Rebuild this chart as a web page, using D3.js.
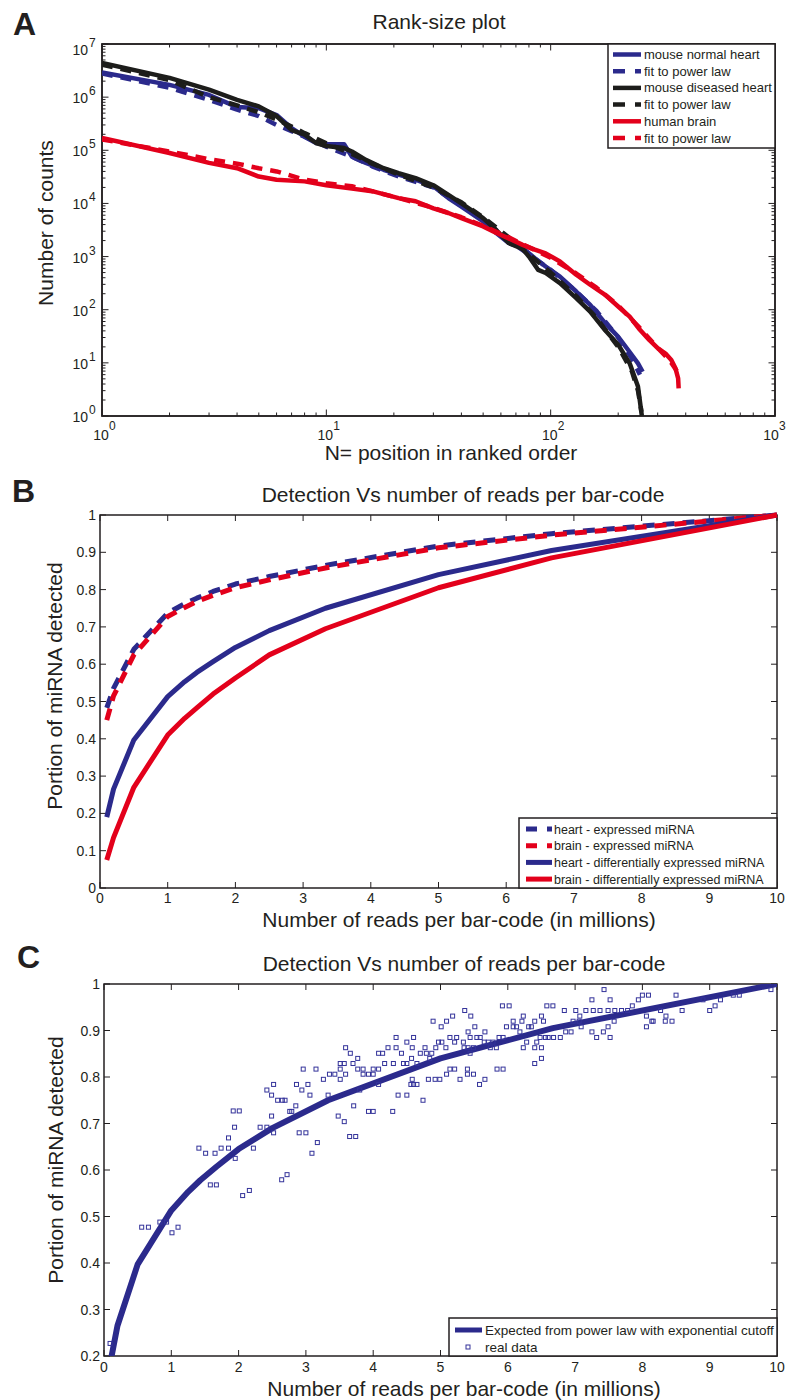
<!DOCTYPE html>
<html lang="en">
<head>
<meta charset="UTF-8" />
<title>miRNA detection vs reads</title>
<script src="https://d3js.org/d3.v7.min.js"></script>
<style>
  body { margin: 0; background: #fff; }
  svg text { font-family: "Liberation Sans", Arial, sans-serif; fill: #231f20; }
  .tick-label { font-size: 14px; }
  .tick-sup { font-size: 12px; }
  .axis-title { font-size: 21px; }
  .panel-letter { font-size: 32px; font-weight: bold; }
  .legend-a text { font-size: 13px; }
  .legend-b text { font-size: 12.5px; }
  .legend-c text { font-size: 13.5px; }
</style>
</head>
<body>
<svg id="fig" width="787" height="1400"></svg>
<script>
// ---------- Panel A: rank-size data, [rank, counts] ----------
var normalHeart = [[1, 2.9e6], [2, 1.7e6], [3, 1.1e6], [4, 6.5e5], [5, 6.2e5], [6, 4.6e5], [7, 2.6e5], [8, 1.8e5], [9, 1.37e5], [10, 1.3e5], [12, 1.3e5], [13, 7.6e4], [15, 5.8e4], [18, 4.3e4], [21, 3.5e4], [25, 2.8e4], [30, 2.1e4], [35, 1.26e4], [40, 8.7e3], [50, 4.6e3], [57, 2.8e3], [65, 1.8e3], [75, 1.45e3], [85, 930], [95, 650], [110, 420], [130, 220], [150, 123], [175, 56], [200, 31], [225, 16], [245, 9.8], [257, 6.8]];
var normalHeartFit = [[1, 2.8e6], [2, 1.5e6], [3, 8.9e5], [4, 5.8e5], [5, 4.4e5], [6, 3.0e5], [7, 2.3e5], [8, 1.8e5], [10, 1.17e5], [13, 7.6e4], [16, 5.0e4], [21, 3.2e4], [30, 2.0e4], [40, 9.0e3], [50, 5.0e3], [65, 2.0e3], [80, 1.1e3], [100, 560], [130, 220], [160, 95], [200, 30], [230, 12], [250, 6]];
var diseasedHeart = [[1, 4.4e6], [2, 2.3e6], [3, 1.38e6], [4, 8.9e5], [5, 6.7e5], [6, 4.4e5], [7, 2.4e5], [8, 1.96e5], [9, 1.37e5], [10, 1.2e5], [12, 1.1e5], [13, 9.5e4], [15, 6.6e4], [18, 4.6e4], [21, 3.7e4], [25, 3.0e4], [30, 2.2e4], [35, 1.45e4], [40, 1.0e4], [50, 5.3e3], [57, 3.2e3], [65, 1.8e3], [75, 1.4e3], [80, 1.0e3], [88, 560], [95, 490], [110, 316], [130, 165], [150, 92], [175, 41], [200, 22], [225, 9.8], [245, 3.6], [255, 1]];
var diseasedHeartFit = [[1, 4.1e6], [2, 2.1e6], [3, 1.0e6], [4, 7.0e5], [5, 5.2e5], [6, 3.8e5], [7, 2.8e5], [8, 2.1e5], [10, 1.35e5], [13, 8.5e4], [16, 5.6e4], [21, 3.5e4], [30, 2.0e4], [40, 1.05e4], [50, 5.5e3], [65, 2.3e3], [80, 1.1e3], [100, 500], [130, 180], [160, 70], [200, 20], [230, 7], [245, 3], [254, 1.2]];
var humanBrain = [[1, 1.7e5], [2, 8.9e4], [3, 5.8e4], [4, 4.6e4], [5, 3.2e4], [6, 2.8e4], [8, 2.6e4], [10, 2.2e4], [13, 1.9e4], [16, 1.7e4], [21, 1.26e4], [25, 1.1e4], [30, 8.1e3], [35, 6.6e3], [40, 5.3e3], [50, 3.7e3], [57, 2.8e3], [65, 2.2e3], [75, 1.66e3], [85, 1.35e3], [95, 1.15e3], [110, 810], [130, 455], [150, 295], [175, 190], [200, 115], [225, 74], [250, 42], [275, 27], [300, 19], [325, 15], [345, 11.3], [360, 7.9], [370, 5.1], [372, 3.3]];
var humanBrainFit = [[1, 1.6e5], [2, 9.5e4], [3, 6.8e4], [4, 5.6e4], [5, 4.6e4], [6, 4.0e4], [8, 2.8e4], [10, 2.4e4], [13, 2.1e4], [16, 1.7e4], [21, 1.26e4], [30, 8.3e3], [40, 5.5e3], [50, 3.8e3], [65, 2.3e3], [80, 1.5e3], [100, 950], [130, 480], [160, 260], [200, 120], [250, 45], [300, 19], [340, 11], [365, 7]];
var legendA = ["mouse normal heart", "fit to power law", "mouse diseased heart", "fit to power law", "human brain", "fit to power law"];

// ---------- Panel B: detection vs reads (millions) ----------
var readsM = [0.1, 0.2, 0.5, 1, 1.25, 1.43, 1.67, 2, 2.5, 3.33, 5, 6.67, 10];
var heartExpressed = [0.483, 0.535, 0.64, 0.737, 0.762, 0.777, 0.795, 0.815, 0.835, 0.865, 0.917, 0.95, 1.0];
var brainExpressed = [0.45, 0.515, 0.625, 0.728, 0.752, 0.768, 0.785, 0.805, 0.826, 0.858, 0.912, 0.946, 1.0];
var heartDiff = [0.19, 0.265, 0.397, 0.513, 0.553, 0.578, 0.607, 0.645, 0.69, 0.75, 0.84, 0.905, 1.0];
var brainDiff = [0.075, 0.135, 0.27, 0.41, 0.455, 0.483, 0.52, 0.563, 0.625, 0.695, 0.805, 0.885, 1.0];
var legendB = ["heart - expressed miRNA", "brain - expressed miRNA", "heart - differentially expressed miRNA", "brain - differentially expressed miRNA"];

// ---------- Panel C: real data, [reads (millions), portion detected] ----------
var realData = [
  [0.09, 0.227], [0.56, 0.477], [0.66, 0.477], [0.83, 0.488], [0.93, 0.488], [1.01, 0.465], [1.10, 0.477],
  [1.58, 0.568], [1.67, 0.568], [2.06, 0.545], [2.16, 0.556], [2.64, 0.579], [2.72, 0.59],
  [1.41, 0.647], [1.51, 0.636], [1.65, 0.636], [1.74, 0.647], [1.85, 0.647], [1.85, 0.669], [1.95, 0.625],
  [1.94, 0.692], [1.92, 0.727], [2.01, 0.727], [2.22, 0.647], [2.32, 0.692], [2.42, 0.692], [2.49, 0.716],
  [2.52, 0.680], [2.42, 0.772], [2.49, 0.761], [2.52, 0.784], [2.58, 0.750], [2.65, 0.750], [2.69, 0.750],
  [2.76, 0.726], [2.79, 0.726], [2.85, 0.738], [2.86, 0.784], [2.94, 0.772], [2.96, 0.817], [3.03, 0.784],
  [3.06, 0.761], [2.90, 0.680], [3.00, 0.680], [3.09, 0.636], [3.17, 0.659], [3.15, 0.817], [3.26, 0.795],
  [3.33, 0.761], [3.35, 0.806], [3.43, 0.806], [3.48, 0.716], [3.57, 0.704], [3.51, 0.817], [3.51, 0.829],
  [3.51, 0.795], [3.57, 0.829], [3.59, 0.863], [3.66, 0.851], [3.59, 0.806], [3.70, 0.829], [3.71, 0.738],
  [3.77, 0.817], [3.85, 0.817], [3.85, 0.806], [3.77, 0.840], [3.65, 0.672], [3.74, 0.672], [3.80, 0.772],
  [3.93, 0.806], [4.00, 0.806], [3.93, 0.726], [4.00, 0.726], [4.00, 0.817], [4.08, 0.817], [4.08, 0.784],
  [4.08, 0.851], [4.14, 0.851], [4.17, 0.829], [4.22, 0.863], [4.29, 0.726], [4.30, 0.829], [4.34, 0.885],
  [4.34, 0.863], [4.37, 0.761],
  [4.42, 0.851], [4.45, 0.829], [4.50, 0.875], [4.50, 0.829], [4.50, 0.761], [4.60, 0.885], [4.58, 0.863],
  [4.57, 0.840], [4.65, 0.829], [4.58, 0.795], [4.56, 0.784], [4.60, 0.784], [4.65, 0.784], [4.74, 0.750],
  [4.70, 0.851], [4.77, 0.863], [4.79, 0.851], [4.87, 0.851], [4.84, 0.840], [4.82, 0.795], [4.92, 0.795],
  [4.99, 0.795], [4.89, 0.920], [5.01, 0.908], [5.09, 0.920], [5.18, 0.931], [4.97, 0.875], [5.02, 0.875],
  [4.93, 0.863], [5.08, 0.863], [5.14, 0.885], [5.24, 0.885], [5.21, 0.875], [5.34, 0.875], [5.35, 0.863],
  [5.44, 0.851], [5.41, 0.863], [5.49, 0.863], [5.45, 0.931], [5.36, 0.943], [5.41, 0.897], [5.51, 0.908],
  [5.44, 0.885], [5.54, 0.885], [5.59, 0.885], [5.09, 0.806], [5.14, 0.817], [5.21, 0.817], [5.29, 0.795],
  [5.40, 0.817], [5.40, 0.806], [5.49, 0.806], [5.58, 0.784], [5.66, 0.795], [5.66, 0.897], [5.65, 0.875],
  [5.71, 0.875], [5.78, 0.875], [5.74, 0.863], [5.83, 0.863], [5.87, 0.885], [5.93, 0.885], [5.84, 0.817],
  [5.93, 0.817], [5.92, 0.953], [6.02, 0.953], [5.98, 0.908], [6.08, 0.908], [6.13, 0.908], [6.08, 0.920],
  [6.21, 0.920], [6.23, 0.931], [6.18, 0.897], [6.31, 0.908], [6.35, 0.908], [6.28, 0.875], [6.23, 0.863],
  [6.40, 0.863], [6.50, 0.863], [6.43, 0.875], [6.48, 0.885], [6.40, 0.920], [6.53, 0.920], [6.50, 0.931],
  [6.58, 0.953], [6.67, 0.953], [6.56, 0.885], [6.60, 0.885], [6.68, 0.885], [6.78, 0.885], [6.40, 0.829],
  [6.50, 0.840], [6.84, 0.943], [6.86, 0.897], [6.94, 0.897], [6.97, 0.920], [7.01, 0.943], [7.07, 0.931],
  [7.06, 0.920], [7.09, 0.908], [7.16, 0.943], [7.25, 0.966], [7.25, 0.897], [7.32, 0.885], [7.27, 0.943],
  [7.37, 0.943], [7.43, 0.988], [7.42, 0.897], [7.52, 0.966], [7.49, 0.943], [7.49, 0.908], [7.52, 0.885],
  [7.59, 0.943], [7.58, 0.920], [7.69, 0.943], [7.78, 0.943], [7.85, 0.953], [7.94, 0.966], [8.00, 0.976],
  [8.09, 0.976], [8.06, 0.931], [8.06, 0.908], [8.14, 0.920], [8.16, 0.920], [8.27, 0.943], [8.35, 0.931],
  [8.34, 0.920], [8.44, 0.920], [8.50, 0.976], [8.59, 0.943], [8.90, 0.966], [9.00, 0.943], [9.08, 0.953],
  [9.16, 0.966], [9.35, 0.976], [9.44, 0.976], [9.91, 0.988], [10.0, 0.999]
];
var legendC = ["Expected from power law with exponential cutoff", "real data"];

var navy = "#2b2a8c", red = "#e3001b", black = "#1d1d1b", ink = "#231f20";
var svg = d3.select("#fig");

// box with inward ticks on all four sides
function frame(box, xs, xVals, ys, yVals, len) {
  var g = svg.append("g");
  g.selectAll(".xt").data(xVals).join("path")
    .attr("d", function (v) {
      var x = xs(v);
      return "M" + x + "," + box.bottom + "v" + (-len) + "M" + x + "," + box.top + "v" + len;
    })
    .attr("stroke", ink).attr("stroke-width", 1);
  g.selectAll(".yt").data(yVals).join("path")
    .attr("d", function (v) {
      var y = ys(v);
      return "M" + box.left + "," + y + "h" + len + "M" + box.right + "," + y + "h" + (-len);
    })
    .attr("stroke", ink).attr("stroke-width", 1);
  g.append("rect")
    .attr("x", box.left).attr("y", box.top)
    .attr("width", box.right - box.left).attr("height", box.bottom - box.top)
    .attr("fill", "none").attr("stroke", ink).attr("stroke-width", 1.5);
  return g;
}

function clip(id, box) {
  svg.append("clipPath").attr("id", id).append("rect")
    .attr("x", box.left).attr("y", box.top)
    .attr("width", box.right - box.left).attr("height", box.bottom - box.top);
}

function label(text, x, y, cls, rotate) {
  var t = svg.append("text").attr("class", cls).attr("text-anchor", "middle").text(text);
  if (rotate) t.attr("transform", "translate(" + x + "," + y + ") rotate(-90)");
  else t.attr("x", x).attr("y", y);
}

function letter(text, x, y) {
  svg.append("text").attr("class", "panel-letter").attr("x", x).attr("y", y).text(text);
}

// ================= Panel A =================
var boxA = { left: 102, right: 775, top: 44, bottom: 416 };
var xA = d3.scaleLog().domain([1, 1000]).range([boxA.left, boxA.right]);
var yA = d3.scaleLog().domain([1, 1e7]).range([boxA.bottom, boxA.top]);

function minors(lo, hi) {
  var out = [];
  for (var e = lo; e < hi; e++) for (var k = 2; k <= 9; k++) out.push(k * Math.pow(10, e));
  return out;
}
var xMajA = [1, 10, 100, 1000], yMajA = d3.range(0, 8).map(function (e) { return Math.pow(10, e); });
frame(boxA, xA, xMajA, yA, yMajA, 6.5);
frame(boxA, xA, minors(0, 3), yA, minors(0, 7), 3.5);

xMajA.forEach(function (v, i) {
  // the last label sits at the page edge, nudge it in a little
  var x = xA(v) - (i === 3 ? 3 : 0);
  svg.append("text").attr("class", "tick-label").attr("text-anchor", "middle")
    .attr("x", x - 1).attr("y", boxA.bottom + 24).text("10");
  svg.append("text").attr("class", "tick-sup").attr("x", x + 7).attr("y", boxA.bottom + 14).text(i);
});
yMajA.forEach(function (v, i) {
  var y = yA(v) + (i === 7 ? 11 : 6);
  svg.append("text").attr("class", "tick-label").attr("text-anchor", "end")
    .attr("x", 88).attr("y", y).text("10");
  svg.append("text").attr("class", "tick-sup").attr("x", 89).attr("y", y - 8).text(i);
});

clip("clipA", boxA);
var lineA = d3.line().x(function (d) { return xA(d[0]); }).y(function (d) { return yA(d[1]); });
var seriesA = [
  { data: normalHeart, color: navy, dash: null },
  { data: normalHeartFit, color: navy, dash: "11,8" },
  { data: diseasedHeart, color: black, dash: null },
  { data: diseasedHeartFit, color: black, dash: "11,8" },
  { data: humanBrain, color: red, dash: null },
  { data: humanBrainFit, color: red, dash: "11,8" }
];
var gA = svg.append("g").attr("clip-path", "url(#clipA)");
seriesA.forEach(function (s) {
  gA.append("path").attr("d", lineA(s.data)).attr("fill", "none")
    .attr("stroke", s.color).attr("stroke-width", 4.5)
    .attr("stroke-linejoin", "round")
    .attr("stroke-dasharray", s.dash);
});

// legend A
var legA = svg.append("g").attr("class", "legend-a");
legA.append("rect").attr("x", 608).attr("y", boxA.top).attr("width", boxA.right - 608).attr("height", 104)
  .attr("fill", "#fff").attr("stroke", ink).attr("stroke-width", 1.5);
legendA.forEach(function (name, i) {
  var y = 54.5 + i * 16.7;
  legA.append("line").attr("x1", 613).attr("x2", 641).attr("y1", y).attr("y2", y)
    .attr("stroke", seriesA[i].color).attr("stroke-width", 4.5)
    .attr("stroke-dasharray", seriesA[i].dash ? "12,10" : null);
  legA.append("text").attr("x", 644).attr("y", y + 4.5).text(name);
});

label("Rank-size plot", 439, 29, "axis-title");
label("N= position in ranked order", 451, 460, "axis-title");
label("Number of counts", 53, 223, "axis-title", true);
letter("A", 13, 35);

// ================= Panel B =================
var boxB = { left: 100, right: 777, top: 515, bottom: 888 };
var xB = d3.scaleLinear().domain([0, 10]).range([boxB.left, boxB.right]);
var yB = d3.scaleLinear().domain([0, 1]).range([boxB.bottom, boxB.top]);
var xTicksB = d3.range(0, 11), yTicksB = d3.range(0, 11).map(function (i) { return i / 10; });
frame(boxB, xB, xTicksB, yB, yTicksB, 6);

xTicksB.forEach(function (v) {
  svg.append("text").attr("class", "tick-label").attr("text-anchor", "middle")
    .attr("x", xB(v)).attr("y", boxB.bottom + 15).text(v);
});
yTicksB.forEach(function (v) {
  svg.append("text").attr("class", "tick-label").attr("text-anchor", "end")
    .attr("x", boxB.left - 4).attr("y", yB(v) + 5).text(v);
});

var seriesB = [
  { vals: heartExpressed, color: navy, dash: "12,8" },
  { vals: brainExpressed, color: red, dash: "12,8" },
  { vals: heartDiff, color: navy, dash: null },
  { vals: brainDiff, color: red, dash: null }
];
seriesB.forEach(function (s) {
  var line = d3.line().x(function (d, i) { return xB(readsM[i]); }).y(function (d) { return yB(d); });
  svg.append("path").attr("d", line(s.vals)).attr("fill", "none")
    .attr("stroke", s.color).attr("stroke-width", 5)
    .attr("stroke-linejoin", "round")
    .attr("stroke-dasharray", s.dash);
});

var legB = svg.append("g").attr("class", "legend-b");
legB.append("rect").attr("x", 519).attr("y", 818).attr("width", boxB.right - 519).attr("height", boxB.bottom - 818)
  .attr("fill", "#fff").attr("stroke", ink).attr("stroke-width", 1.5);
legendB.forEach(function (name, i) {
  var y = 829 + i * 16.7;
  legB.append("line").attr("x1", 526).attr("x2", 552).attr("y1", y).attr("y2", y)
    .attr("stroke", seriesB[i].color).attr("stroke-width", 5)
    .attr("stroke-dasharray", seriesB[i].dash ? "11,10" : null);
  legB.append("text").attr("x", 554).attr("y", y + 4.5).text(name);
});

label("Detection Vs number of reads per bar-code", 463, 502, "axis-title");
label("Number of reads per bar-code (in millions)", 459, 927, "axis-title");
label("Portion of miRNA detected", 62, 686, "axis-title", true);
letter("B", 12, 502);

// ================= Panel C =================
var boxC = { left: 104, right: 777, top: 984, bottom: 1356 };
var xC = d3.scaleLinear().domain([0, 10]).range([boxC.left, boxC.right]);
var yC = d3.scaleLinear().domain([0.2, 1]).range([boxC.bottom, boxC.top]);
var xTicksC = d3.range(0, 11), yTicksC = d3.range(2, 11).map(function (i) { return i / 10; });
frame(boxC, xC, xTicksC, yC, yTicksC, 6);

xTicksC.forEach(function (v) {
  svg.append("text").attr("class", "tick-label").attr("text-anchor", "middle")
    .attr("x", xC(v)).attr("y", boxC.bottom + 16).text(v);
});
yTicksC.forEach(function (v) {
  svg.append("text").attr("class", "tick-label").attr("text-anchor", "end")
    .attr("x", boxC.left - 4).attr("y", yC(v) + 5).text(v);
});

clip("clipC", boxC);
var gC = svg.append("g").attr("clip-path", "url(#clipC)");
var lineC = d3.line().x(function (d, i) { return xC(readsM[i]); }).y(function (d) { return yC(d); });
gC.append("path").attr("d", lineC(heartDiff)).attr("fill", "none")
  .attr("stroke", navy).attr("stroke-width", 6).attr("stroke-linejoin", "round");
gC.selectAll(".pt").data(realData).join("rect")
  .attr("x", function (d) { return xC(d[0]) - 2; })
  .attr("y", function (d) { return yC(d[1]) - 2; })
  .attr("width", 4).attr("height", 4)
  .attr("fill", "none").attr("stroke", "#34339a").attr("stroke-width", 1);

var legC = svg.append("g").attr("class", "legend-c");
legC.append("rect").attr("x", 449).attr("y", 1318).attr("width", boxC.right - 449).attr("height", boxC.bottom - 1318)
  .attr("fill", "#fff").attr("stroke", ink).attr("stroke-width", 1.5);
legC.append("line").attr("x1", 455).attr("x2", 482).attr("y1", 1330).attr("y2", 1330)
  .attr("stroke", navy).attr("stroke-width", 5);
legC.append("rect").attr("x", 466).attr("y", 1345).attr("width", 4).attr("height", 4)
  .attr("fill", "none").attr("stroke", "#34339a").attr("stroke-width", 1);
legendC.forEach(function (name, i) {
  legC.append("text").attr("x", 485).attr("y", 1335 + i * 17).text(name);
});

label("Detection Vs number of reads per bar-code", 464, 971, "axis-title");
label("Number of reads per bar-code (in millions)", 464, 1396, "axis-title");
label("Portion of miRNA detected", 63, 1160, "axis-title", true);
letter("C", 17, 968);
</script>
</body>
</html>
